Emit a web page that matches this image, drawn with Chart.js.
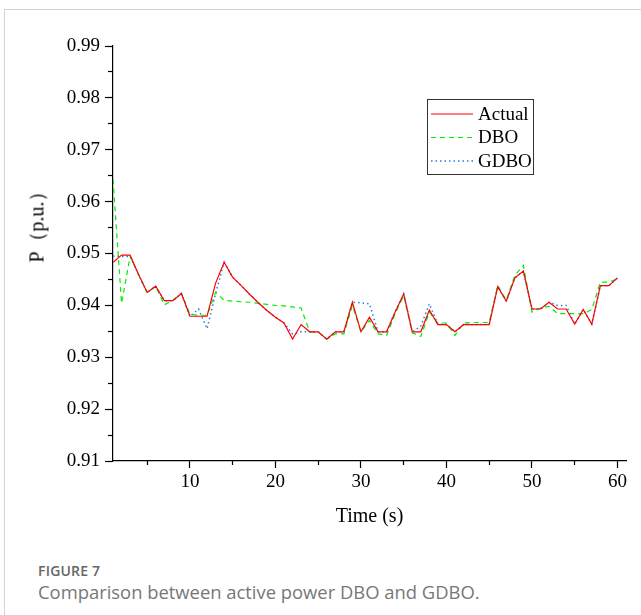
<!DOCTYPE html>
<html>
<head>
<meta charset="utf-8">
<script src="https://cdn.jsdelivr.net/npm/chart.js@4.4.1/dist/chart.umd.min.js"></script>
<style>
  body { margin: 0; background: #fff; }
  #page { position: relative; width: 641px; height: 615px; overflow: hidden; }
  #frame { position: absolute; left: 4px; top: 9px; right: -2px; bottom: -2px;
           border-left: 1px solid #d4d4d4; border-top: 1px solid #d4d4d4; }
  #chart { position: absolute; left: 0; top: 0; }
  #ytitle { position: absolute; left: 37px; top: 222px; transform: translate(-50%, -50%) rotate(-90deg);
            font-family: "Liberation Serif", "Times New Roman", serif; font-size: 20px; color: #000;
            white-space: nowrap; }
  .cap { position: absolute; left: 38px; font-family: "Open Sans", sans-serif; color: #666; }
  #figno { top: 561px; font-size: 14px; font-weight: 600; letter-spacing: 0.2px; }
  #figtxt { top: 579px; font-size: 18.4px; color: #777; font-weight: 400; }
</style>
</head>
<body>
<div id="page">
  <div id="frame"></div>
  <canvas id="chart" width="641" height="540"></canvas>
  <div id="ytitle">P（p.u.）</div>
  <div class="cap" id="figno">FIGURE 7</div>
  <div class="cap" id="figtxt">Comparison between active power DBO and GDBO.</div>
</div>
<script>
// time in seconds
var times = [1, 2, 3, 4, 5, 6, 7, 8, 9, 10,
  11, 12, 13, 14, 15, 16, 17, 18, 19, 20,
  21, 22, 23, 24, 25, 26, 27, 28, 29, 30,
  31, 32, 33, 34, 35, 36, 37, 38, 39, 40,
  41, 42, 43, 44, 45, 46, 47, 48, 49, 50,
  51, 52, 53, 54, 55, 56, 57, 58, 59, 60];

var actual = [0.9483, 0.9497, 0.9497, 0.9459, 0.9425, 0.9437, 0.9409, 0.9409, 0.9423, 0.9379,
  0.9379, 0.9379, 0.9443, 0.9483, 0.9454, 0.9438, 0.9421, 0.9405, 0.9390, 0.9377,
  0.9366, 0.9335, 0.9363, 0.9349, 0.9349, 0.9335, 0.9349, 0.9349, 0.9406, 0.9349,
  0.9377, 0.9349, 0.9349, 0.9387, 0.9422, 0.9349, 0.9349, 0.9391, 0.9363, 0.9363,
  0.9349, 0.9363, 0.9363, 0.9363, 0.9363, 0.9436, 0.9408, 0.9453, 0.9466, 0.9393,
  0.9393, 0.9406, 0.9393, 0.9393, 0.9364, 0.9392, 0.9364, 0.9438, 0.9438, 0.9453];

var dbo = [0.9643, 0.9404, 0.9494, 0.9459, 0.9425, 0.9437, 0.9401, 0.9410, 0.9423, 0.9383,
  0.9381, 0.9381, 0.9425, 0.9410, 0.9408, 0.9407, 0.9406, 0.9404, 0.9402, 0.9400,
  0.9399, 0.9397, 0.9395, 0.9349, 0.9349, 0.9335, 0.9345, 0.9345, 0.9400, 0.9349,
  0.9371, 0.9345, 0.9342, 0.9384, 0.9419, 0.9347, 0.9340, 0.9387, 0.9366, 0.9366,
  0.9342, 0.9366, 0.9367, 0.9367, 0.9367, 0.9438, 0.9410, 0.9458, 0.9477, 0.9387,
  0.9395, 0.9398, 0.9384, 0.9384, 0.9384, 0.9384, 0.9392, 0.9445, 0.9445, 0.9451];

var gdbo = [0.9495, 0.9494, 0.9494, 0.9459, 0.9425, 0.9437, 0.9409, 0.9409, 0.9423, 0.9379,
  0.9393, 0.9355, 0.9423, 0.9483, 0.9454, 0.9438, 0.9421, 0.9405, 0.9390, 0.9377,
  0.9366, 0.9345, 0.9349, 0.9349, 0.9349, 0.9335, 0.9349, 0.9349, 0.9406, 0.9405,
  0.9403, 0.9349, 0.9349, 0.9387, 0.9422, 0.9349, 0.9360, 0.9403, 0.9363, 0.9363,
  0.9349, 0.9363, 0.9363, 0.9363, 0.9363, 0.9436, 0.9408, 0.9453, 0.9466, 0.9393,
  0.9393, 0.9406, 0.9400, 0.9400, 0.9364, 0.9392, 0.9364, 0.9438, 0.9438, 0.9453];

var seriesNames = ["Actual", "DBO", "GDBO"];

// axis ticks (major ones get labels, minor ones only a short mark)
var xTicks = [10, 20, 30, 40, 50, 60];
var xMinorTicks = [5, 15, 25, 35, 45, 55];
var yTicks = [0.91, 0.92, 0.93, 0.94, 0.95, 0.96, 0.97, 0.98, 0.99];
var yMinorTicks = [0.915, 0.925, 0.935, 0.945, 0.955, 0.965, 0.975, 0.985];

function toPoints(vals) {
  return vals.map(function (v, i) { return { x: times[i], y: v }; });
}

function fixTicks(list) {
  return function (s) { s.ticks = list.map(function (v) { return { value: v }; }); };
}

var serif = '"Liberation Serif", "Times New Roman", serif';

// legend box drawn inside the plot, upper right
var legendBox = {
  id: 'legendBox',
  afterDraw: function (chart) {
    var ctx = chart.ctx, area = chart.chartArea;
    var bx = area.left + 314, by = area.top + 53;
    ctx.save();
    ctx.strokeStyle = '#333';
    ctx.lineWidth = 1;
    ctx.strokeRect(bx + 0.5, by + 0.5, 106, 75);
    chart.data.datasets.forEach(function (ds, i) {
      var ly = by + 15 + i * 23.5;
      ctx.beginPath();
      ctx.setLineDash(ds.borderDash || []);
      ctx.strokeStyle = ds.borderColor;
      ctx.lineWidth = ds.borderWidth;
      ctx.moveTo(bx + 4, ly);
      ctx.lineTo(bx + 46, ly);
      ctx.stroke();
      ctx.setLineDash([]);
      ctx.fillStyle = '#000';
      ctx.font = '19px ' + serif;
      ctx.textBaseline = 'middle';
      ctx.fillText(ds.label, bx + 51, ly + 1);
    });
    ctx.restore();
  }
};

new Chart(document.getElementById("chart"), {
  type: 'line',
  data: {
    datasets: [
      { label: seriesNames[0], data: toPoints(actual), borderColor: '#ff0000',
        borderWidth: 1.2, pointRadius: 0, tension: 0 },
      { label: seriesNames[1], data: toPoints(dbo), borderColor: '#00ee00',
        borderWidth: 1.2, borderDash: [5, 4], pointRadius: 0, tension: 0 },
      { label: seriesNames[2], data: toPoints(gdbo), borderColor: '#2b78e4',
        borderWidth: 1.5, borderDash: [1.5, 3], pointRadius: 0, tension: 0 }
    ]
  },
  options: {
    responsive: false,
    animation: false,
    devicePixelRatio: 1,
    layout: { padding: { top: 46, right: 15, left: 0, bottom: 0 } },
    plugins: { legend: { display: false }, tooltip: { enabled: false } },
    scales: {
      x: {
        type: 'linear', min: 1, max: 61, weight: 1,
        afterBuildTicks: fixTicks(xTicks),
        ticks: { color: '#000', padding: 3, font: { family: serif, size: 19 }, maxRotation: 0 },
        grid: { drawOnChartArea: false, drawTicks: true, tickLength: 7, tickColor: '#000', tickWidth: 1.2 },
        border: { display: true, color: '#000', width: 1.2 },
        title: { display: true, text: 'Time (s)', color: '#000',
                 font: { family: serif, size: 20, lineHeight: 1.2 }, padding: { bottom: 11 } },
        afterFit: function (s) { s.height = 79; }
      },
      xMinor: {
        type: 'linear', min: 1, max: 61, position: 'bottom', weight: 0,
        afterBuildTicks: fixTicks(xMinorTicks),
        ticks: { display: false },
        grid: { drawOnChartArea: false, drawTicks: true, tickLength: 4, tickColor: '#000', tickWidth: 1.2 },
        border: { display: false },
        afterFit: function (s) { s.height = 0; }
      },
      y: {
        min: 0.91, max: 0.99, weight: 1,
        afterBuildTicks: fixTicks(yTicks),
        ticks: { color: '#000', padding: 5, font: { family: serif, size: 19 },
                 callback: function (v) { return v.toFixed(2); } },
        grid: { drawOnChartArea: false, drawTicks: true, tickLength: 8, tickColor: '#000', tickWidth: 1.2 },
        border: { display: true, color: '#000', width: 1.2 },
        afterFit: function (s) { s.width = 113; }
      },
      yMinor: {
        min: 0.91, max: 0.99, position: 'left', weight: 0,
        afterBuildTicks: fixTicks(yMinorTicks),
        ticks: { display: false },
        grid: { drawOnChartArea: false, drawTicks: true, tickLength: 5, tickColor: '#000', tickWidth: 1.2 },
        border: { display: false },
        afterFit: function (s) { s.width = 0; }
      }
    }
  },
  plugins: [legendBox]
});
</script>
</body>
</html>
